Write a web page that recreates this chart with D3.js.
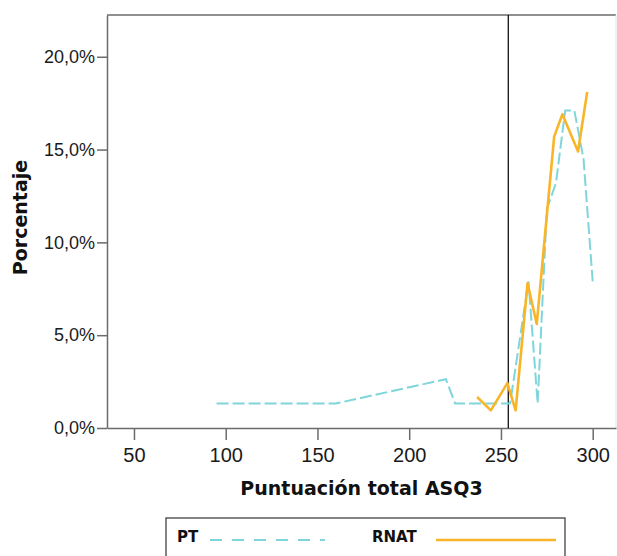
<!DOCTYPE html>
<html>
<head>
<meta charset="utf-8">
<script src="https://cdn.jsdelivr.net/npm/d3@7"></script>
<style>
  body { margin: 0; background: #fff; }
  svg { display: block; font-family: "DejaVu Sans", Verdana, sans-serif; }
  .tick text { font-size: 18px; fill: #1a1a1a; }
  .xAxis .tick text { font-size: 20px; }
  .axisTitle { font-size: 19px; font-weight: bold; fill: #111; }
</style>
</head>
<body>
<div id="chart"></div>
<script>
// ASQ3 total score vs percentage, two groups
var ptScore = [95, 160, 220, 225, 255, 265, 270, 275, 280, 285, 290, 295, 300];
var ptPct = [1.32, 1.32, 2.63, 1.32, 1.32, 7.9, 1.32, 11.8, 13.2, 17.1, 17.1, 14.5, 7.9];

var rnatScore = [237, 244.5, 253.5, 258, 264.5, 269.5, 279, 283.5, 292, 297];
var rnatPct = [1.67, 0.95, 2.42, 0.95, 7.8, 5.6, 15.7, 16.9, 14.9, 18.1];

var xTicks = [50, 100, 150, 200, 250, 300];
var yTicks = [0, 5, 10, 15, 20];
var cutoff = 254;

var svgWidth = 617;
var svgHeight = 556;

var margin = { top: 15, right: 1, bottom: 128, left: 107 };
var width = svgWidth - margin.left - margin.right;
var height = svgHeight - margin.top - margin.bottom;

var svg = d3.select("#chart")
    .append("svg")
    .attr("width", svgWidth)
    .attr("height", svgHeight);

var chartGroup = svg.append("g")
    .attr("transform", `translate(${margin.left}, ${margin.top})`);

var xScale = d3.scaleLinear()
    .domain([35.3, 312.7])
    .range([0, width]);

var yScale = d3.scaleLinear()
    .domain([0, 22.25])
    .range([height, 0]);

// frame: top and right
chartGroup.append("line")
    .attr("x1", 0).attr("x2", width)
    .attr("y1", 0).attr("y2", 0)
    .attr("stroke", "#6b6b6b")
    .attr("stroke-width", 1.5);
chartGroup.append("line")
    .attr("x1", width).attr("x2", width)
    .attr("y1", 0).attr("y2", height)
    .attr("stroke", "#e4e4e4")
    .attr("stroke-width", 1);

// axes
var bottomAxis = d3.axisBottom(xScale)
    .tickValues(xTicks)
    .tickSize(12)
    .tickSizeOuter(0)
    .tickPadding(8)
    .tickFormat(d3.format("d"));

var leftAxis = d3.axisLeft(yScale)
    .tickValues(yTicks)
    .tickSize(10)
    .tickSizeOuter(0)
    .tickPadding(2)
    .tickFormat(d => d.toFixed(1).replace(".", ",") + "%");

var xAxisG = chartGroup.append("g")
    .attr("class", "xAxis")
    .attr("transform", `translate(0, ${height})`)
    .call(bottomAxis);

var yAxisG = chartGroup.append("g")
    .call(leftAxis);

[xAxisG, yAxisG].forEach(g => {
    g.selectAll("path, line").attr("stroke", "#6b6b6b").attr("stroke-width", 1.5);
});

// reference line
chartGroup.append("line")
    .attr("x1", xScale(cutoff)).attr("x2", xScale(cutoff))
    .attr("y1", 0).attr("y2", height)
    .attr("stroke", "#111")
    .attr("stroke-width", 1.3);

var ptData = ptScore.map((s, i) => ({ x: s, y: ptPct[i] }));
var rnatData = rnatScore.map((s, i) => ({ x: s, y: rnatPct[i] }));

var line = d3.line()
    .x(d => xScale(d.x))
    .y(d => yScale(d.y));

chartGroup.append("path")
    .datum(ptData)
    .attr("d", line)
    .attr("fill", "none")
    .attr("stroke", "#7fd6da")
    .attr("stroke-width", 2)
    .attr("stroke-dasharray", "12,4");

chartGroup.append("path")
    .datum(rnatData)
    .attr("d", line)
    .attr("fill", "none")
    .attr("stroke", "#f9b52a")
    .attr("stroke-width", 2.6)
    .attr("stroke-linejoin", "round");

// axis labels
chartGroup.append("text")
    .attr("class", "axisTitle")
    .attr("transform", `translate(${-margin.left + 27}, ${height / 2 - 4}) rotate(-90)`)
    .attr("text-anchor", "middle")
    .text("Porcentaje");

chartGroup.append("text")
    .attr("class", "axisTitle")
    .attr("x", (240 + 483) / 2 - margin.left)
    .attr("y", height + 67)
    .attr("text-anchor", "middle")
    .text("Puntuación total ASQ3");

// legend
var legend = svg.append("g").attr("transform", "translate(166, 518)");
legend.append("rect")
    .attr("width", 399).attr("height", 50)
    .attr("fill", "#fff")
    .attr("stroke", "#333")
    .attr("stroke-width", 1.2);

var legendItems = [
    { name: "PT", tx: 11, x1: 44, x2: 159, color: "#7fd6da", dash: "12,10", w: 2 },
    { name: "RNAT", tx: 206, x1: 270, x2: 390, color: "#f9b52a", dash: null, w: 2.6 }
];
legendItems.forEach(d => {
    legend.append("text")
        .attr("x", d.tx).attr("y", 24)
        .attr("font-size", 15)
        .attr("font-weight", "bold")
        .attr("fill", "#111")
        .text(d.name);
    legend.append("line")
        .attr("x1", d.x1).attr("x2", d.x2)
        .attr("y1", 22).attr("y2", 22)
        .attr("stroke", d.color)
        .attr("stroke-width", d.w)
        .attr("stroke-dasharray", d.dash);
});
</script>
</body>
</html>
